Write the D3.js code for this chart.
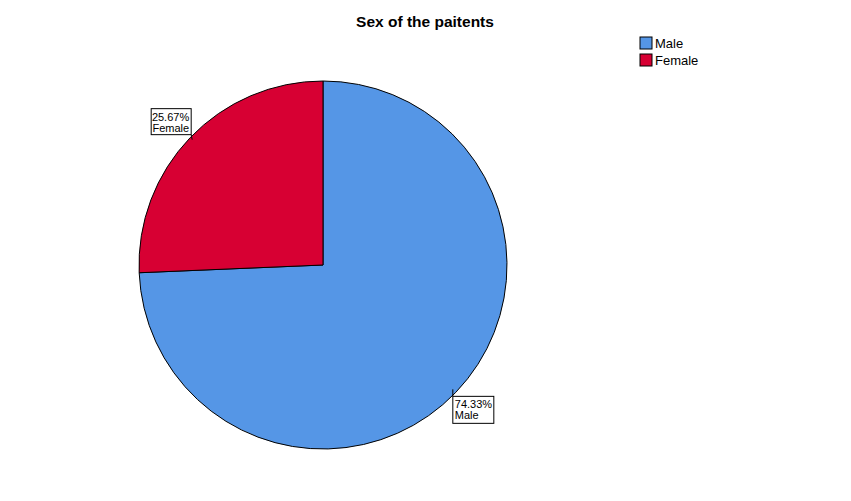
<!DOCTYPE html>
<html>
<head>
<meta charset="utf-8">
<script src="https://cdn.jsdelivr.net/npm/d3@7"></script>
<style>
  body { margin: 0; background: #fff; }
  text { font-family: "Liberation Sans", Arial, sans-serif; }
</style>
</head>
<body>
<svg id="chart" width="851" height="501"></svg>
<script>
// chart data
var categories = ["Male", "Female"],
    percents = [74.33, 25.67],
    colors = ["#5596e6", "#d70033"];

var svg = d3.select("#chart"),
    cx = 323, cy = 265, radius = 184;

svg.append("text")
  .attr("x", 425)
  .attr("y", 27)
  .attr("text-anchor", "middle")
  .style("font-size", "15.5px")
  .style("font-weight", "bold")
  .text("Sex of the paitents");

var pie = d3.pie().sort(null).value(function(d) { return d; });
var arc = d3.arc().innerRadius(0).outerRadius(radius);
var slices = pie(percents);

var g = svg.append("g").attr("transform", "translate(" + cx + "," + cy + ")");

g.selectAll("path")
  .data(slices)
  .enter().append("path")
  .attr("d", arc)
  .attr("fill", function(d, i) { return colors[i]; })
  .attr("stroke", "#000")
  .attr("stroke-width", 1);

// label boxes hang off the edge at the middle of each slice
var edgeArc = d3.arc().innerRadius(radius).outerRadius(radius);

slices.forEach(function(d, i) {
  var mid = (d.startAngle + d.endAngle) / 2;
  var onLeft = mid > Math.PI;
  var e = edgeArc.centroid(d);
  var w = onLeft ? 40 : 41, h = onLeft ? 26 : 27;
  // corner of the box nearest the pie
  var corner = onLeft ? [e[0] + 1, e[1] - 3] : [e[0] - 3, e[1] + 4];
  var bx = onLeft ? corner[0] - w : corner[0],
      by = onLeft ? corner[1] - h : corner[1];

  g.append("line")
    .attr("x1", corner[0]).attr("y1", corner[1])
    .attr("x2", e[0] + (onLeft ? 2 : -3)).attr("y2", e[1] + (onLeft ? 2 : -3))
    .attr("stroke", "#000")
    .attr("stroke-width", 1);

  g.append("rect")
    .attr("x", bx).attr("y", by)
    .attr("width", w).attr("height", h)
    .attr("fill", "#fff")
    .attr("stroke", "#000")
    .attr("stroke-width", 1);

  var tx = onLeft ? bx + w - 2 : bx + 2;
  var t = g.append("text")
    .attr("text-anchor", onLeft ? "end" : "start")
    .style("font-size", "11px");
  t.append("tspan").attr("x", tx).attr("y", by + 12).text(percents[i].toFixed(2) + "%");
  t.append("tspan").attr("x", tx).attr("y", by + 23).text(categories[i]);
});

// legend
var legend = svg.append("g").attr("transform", "translate(640,37)");
var item = legend.selectAll("g")
  .data(categories)
  .enter().append("g")
  .attr("transform", function(d, i) { return "translate(0," + (i * 17) + ")"; });

item.append("rect")
  .attr("width", 12).attr("height", 12)
  .attr("fill", function(d, i) { return colors[i]; })
  .attr("stroke", "#000");

item.append("text")
  .attr("x", 15)
  .attr("y", 11)
  .style("font-size", "13px")
  .text(function(d) { return d; });
</script>
</body>
</html>
